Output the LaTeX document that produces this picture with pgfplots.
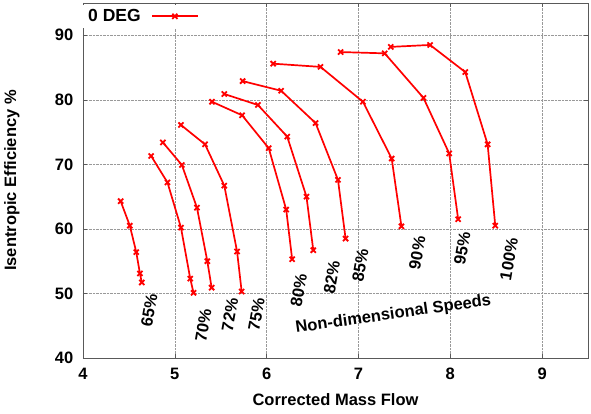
\documentclass[border=0pt]{standalone}
\usepackage{pgfplots}
\pgfplotsset{compat=1.18}
\usepackage{fontspec}
\setmainfont{Liberation Sans}
\begin{document}
\fontsize{16.5}{19}\selectfont\bfseries
\begin{tikzpicture}
\begin{axis}[
  at={(0,0)}, anchor=south west,
  scale only axis, width=505pt, height=355pt,
  xmin=4, xmax=9.5, ymin=40, ymax=95,
  xtick={4,5,6,7,8,9}, ytick={40,50,60,70,80,90},
  grid=major,
  grid style={densely dotted, gray!80, line width=0.6pt},
  axis line style={gray!70!black, line width=0.9pt},
  tick style={gray!70!black, line width=0.6pt},
  major tick length=4pt,
  /pgf/number format/assume math mode=true,
  ticklabel style={font=\fontsize{16.5}{19}\selectfont\bfseries},
  xticklabel style={yshift=-4pt},
  yticklabel style={xshift=-4pt},
  xlabel={Corrected Mass Flow},
  ylabel={Isentropic Efficiency \%},
  label style={font=\fontsize{16.5}{19}\selectfont\bfseries},
  x label style={at={(axis description cs:0.5,-0.118)}, anchor=center},
  y label style={at={(axis description cs:-0.141,0.5)}, anchor=center},
  legend style={at={(rel axis cs:0.0,0.995)}, anchor=north west, draw=none, fill=white,
    font=\fontsize{17.5}{20}\selectfont\bfseries},
  legend plot pos=right,
  legend image code/.code={\path (0cm,0cm); \draw[mark repeat=2,mark phase=2] plot coordinates {(0.3cm,0cm) (1.1cm,0cm) (1.9cm,0cm)};},
  clip=false,
]
\pgfplotsset{myplot/.style={red, solid, mark=x, line width=1.7pt, mark size=3.6pt, mark options={solid, red, line width=1.8pt}}}
% 65%
\addplot[myplot] coordinates {(4.41,64.3) (4.51,60.5) (4.58,56.4) (4.62,53.1) (4.64,51.7)};
\addlegendentry{0 DEG}
% 70%
\addplot[myplot, forget plot] coordinates {(4.742,71.3) (4.92,67.2) (5.067,60.2) (5.168,52.3) (5.204,50.1)};
% 72%
\addplot[myplot, forget plot] coordinates {(4.870,73.4) (5.077,69.9) (5.241,63.3) (5.354,55.0) (5.401,50.9)};
% 75%
\addplot[myplot, forget plot] coordinates {(5.067,76.1) (5.329,73.1) (5.539,66.7) (5.678,56.5) (5.728,50.3)};
% 80%
\addplot[myplot, forget plot] coordinates {(5.405,79.7) (5.733,77.6) (6.023,72.5) (6.213,63.0) (6.278,55.3)};
% 82%
\addplot[myplot, forget plot] coordinates {(5.539,80.9) (5.905,79.2) (6.224,74.3) (6.434,65.0) (6.508,56.7)};
% 85%
\addplot[myplot, forget plot] coordinates {(5.739,82.9) (6.158,81.4) (6.533,76.4) (6.777,67.6) (6.860,58.5)};
% 90%
\addplot[myplot, forget plot] coordinates {(6.071,85.6) (6.587,85.1) (7.049,79.7) (7.362,70.9) (7.468,60.4)};
% 95%
\addplot[myplot, forget plot] coordinates {(6.806,87.4) (7.286,87.2) (7.708,80.3) (7.988,71.7) (8.086,61.5)};
% 100%
\addplot[myplot, forget plot] coordinates {(7.352,88.2) (7.78,88.5) (8.163,84.3) (8.407,73.1) (8.49,60.5)};

\node[rotate=80] at (axis cs:4.72,47.4) {65\%};
\node[rotate=80] at (axis cs:5.31,45.1) {70\%};
\node[rotate=80] at (axis cs:5.60,46.7) {72\%};
\node[rotate=80] at (axis cs:5.89,46.7) {75\%};
\node[rotate=80] at (axis cs:6.35,50.5) {80\%};
\node[rotate=80] at (axis cs:6.71,52.5) {82\%};
\node[rotate=80] at (axis cs:7.02,54.4) {85\%};
\node[rotate=80] at (axis cs:7.64,56.3) {90\%};
\node[rotate=80] at (axis cs:8.13,57.0) {95\%};
\node[rotate=80] at (axis cs:8.64,55.3) {100\%};
\node[rotate=8] at (axis cs:7.38,46.7) {Non-dimensional Speeds};
\end{axis}
\pgfresetboundingbox
\path (-83pt,-56pt) rectangle (508pt,358pt);
\end{tikzpicture}
\end{document}
